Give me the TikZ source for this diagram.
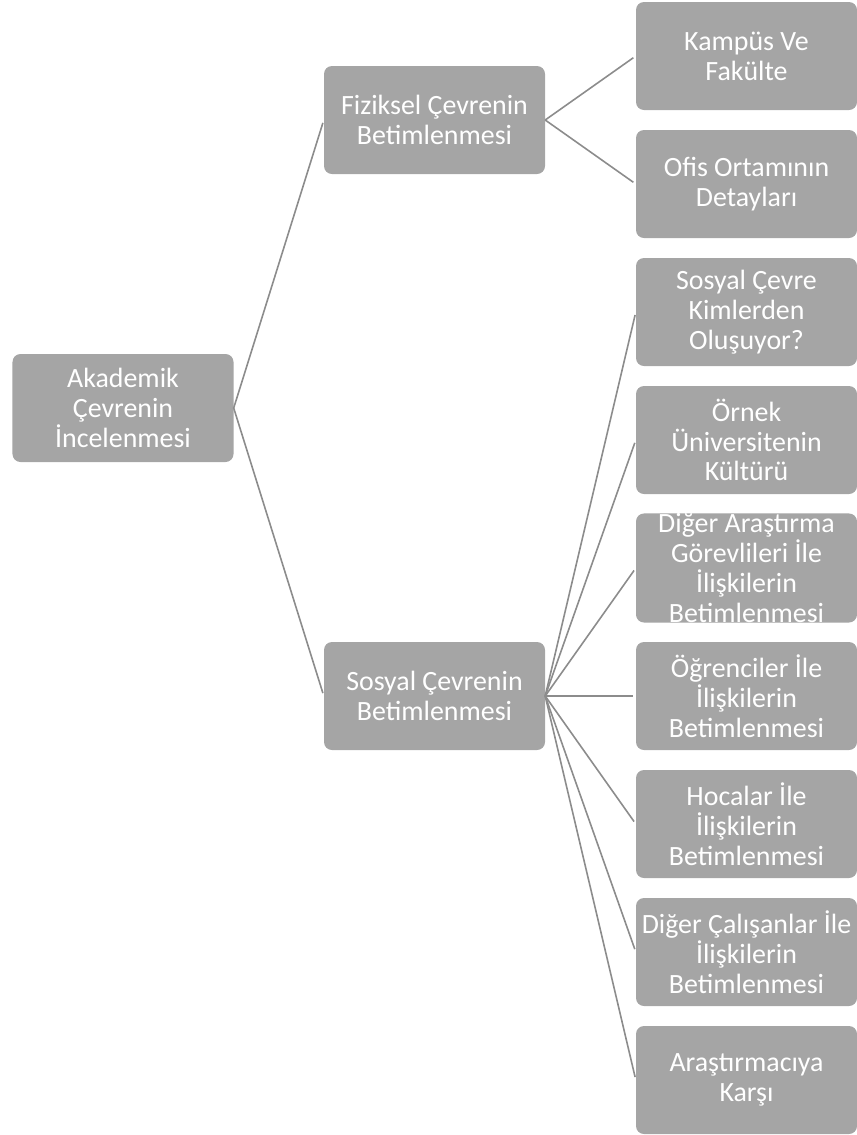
\documentclass[tikz,border=0pt]{standalone}
\usepackage{fontspec}
\setmainfont{Carlito}
\definecolor{boxgray}{HTML}{A5A5A5}
\definecolor{linegray}{HTML}{8C8C8C}
\begin{document}
\begin{tikzpicture}[x=1bp,y=-1bp,
    tbox/.style={fill=boxgray,rounded corners=8bp,inner sep=0pt,
      minimum width=221bp,minimum height=108bp,text=white,align=center,
      font=\fontsize{28}{30}\selectfont},
    link/.style={draw=linegray,line width=1.6bp,shorten >=3bp}]
      \useasboundingbox (0,0) rectangle (857,1135) ;
      % root and second level
      \node[tbox] (akademik) at (123,408) {Akademik\\Çevrenin\\İncelenmesi} ;
      \node[tbox] (fiziksel) at (434.5,120) {Fiziksel Çevrenin\\Betimlenmesi} ;
      \node[tbox] (sosyal) at (434.5,696) {Sosyal Çevrenin\\Betimlenmesi} ;
      % leaves
      \node[tbox] (kampus) at (746.5,56) {Kampüs Ve\\Fakülte} ;
      \node[tbox] (ofis) at (746.5,184) {Ofis Ortamının\\Detayları} ;
      \node[tbox] (kimler) at (746.5,312) {Sosyal Çevre\\Kimlerden\\Oluşuyor?} ;
      \node[tbox] (kultur) at (746.5,440) {Örnek\\Üniversitenin\\Kültürü} ;
      \node[tbox] (arastirma) at (746.5,568) {Diğer Araştırma\\Görevlileri İle\\İlişkilerin\\Betimlenmesi} ;
      \node[tbox] (ogrenci) at (746.5,696) {Öğrenciler İle\\İlişkilerin\\Betimlenmesi} ;
      \node[tbox] (hoca) at (746.5,824) {Hocalar İle\\İlişkilerin\\Betimlenmesi} ;
      \node[tbox] (calisan) at (746.5,952) {Diğer Çalışanlar İle\\İlişkilerin\\Betimlenmesi} ;
      \node[tbox] (karsi) at (746.5,1080) {Araştırmacıya\\Karşı} ;
      % connectors
      \draw[link] (akademik.east)--(fiziksel.west) ;
      \draw[link] (akademik.east)--(sosyal.west) ;
      \draw[link] (fiziksel.east)--(kampus.west) ;
      \draw[link] (fiziksel.east)--(ofis.west) ;
      \foreach \leaf in {kimler,kultur,arastirma,ogrenci,hoca,calisan,karsi}
        \draw[link] (sosyal.east)--(\leaf.west) ;
    \end{tikzpicture}
\end{document}
